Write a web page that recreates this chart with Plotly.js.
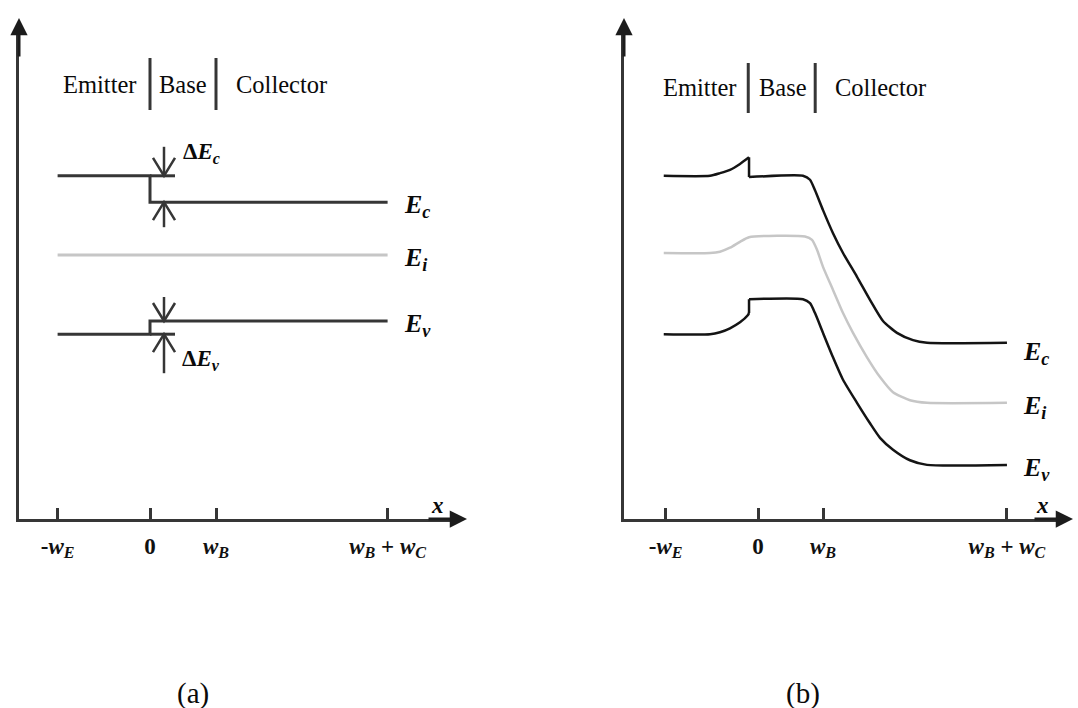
<!DOCTYPE html>
<html><head><meta charset="utf-8">
<script src="https://cdn.plot.ly/plotly-3.0.1.min.js"></script>
<style>html,body{margin:0;padding:0;background:#fff}#chart{width:1078px;height:708px}</style>
</head><body><div id="chart"></div>
<script>
// ---------------- data ----------------
const tickText = ['<b>-<i>w</i><sub><i>E</i></sub></b>', '<b>0</b>', '<b><i>w</i><sub><i>B</i></sub></b>', '<b><i>w</i><sub><i>B</i></sub> + <i>w</i><sub><i>C</i></sub></b>'];
const xTicksA = [-1.4, 0, 1, 3.6];
const xTicksB = [-1.42, 0, 1, 3.83];
const regionNames = ['Emitter', 'Base', 'Collector'];
const bandLabels = ['<b><i>E<sub>c</sub></i></b>', '<b><i>E<sub>i</sub></i></b>', '<b><i>E<sub>v</sub></i></b>'];
const captions = ['(a)', '(b)'];

// panel (a): abrupt heterojunction, flat bands
const xA_Ec = [-1.4, 0, 0, 3.6];
const yA_Ec = [5.2, 5.2, 4.8, 4.8];
const xA_Ei = [-1.4, 3.6];
const yA_Ei = [4.0, 4.0];
const xA_Ev = [-1.4, 0, 0, 3.6];
const yA_Ev = [2.8, 2.8, 3.0, 3.0];
const regionEdgesA = [0, 1];
const labelLevelsA = [4.8, 4.0, 3.0];

// panel (b): biased HBT
const xB_Ec = [-1.45, -0.738, -0.585, -0.431, -0.277, -0.138, -0.138, 0.692, 0.80, 0.877, 1.0, 1.154, 1.308, 1.523, 1.723, 1.923, 2.138, 2.385, 2.6, 3.83];
const yB_Ec = [5.2, 5.2, 5.24, 5.29, 5.38, 5.48, 5.18, 5.2, 5.14, 4.98, 4.68, 4.33, 4.03, 3.67, 3.32, 3.0, 2.82, 2.71, 2.67, 2.67];
const xB_Ei = [-1.45, -0.738, -0.585, -0.431, -0.277, -0.138, 0.723, 0.831, 0.908, 1.0, 1.154, 1.308, 1.462, 1.677, 1.877, 2.077, 2.338, 2.6, 3.83];
const yB_Ei = [4.03, 4.03, 4.05, 4.11, 4.20, 4.27, 4.28, 4.23, 4.08, 3.82, 3.47, 3.12, 2.82, 2.45, 2.15, 1.92, 1.80, 1.76, 1.76];
const xB_Ev = [-1.45, -0.738, -0.585, -0.431, -0.277, -0.154, -0.138, -0.138, 0.692, 0.80, 0.877, 1.0, 1.154, 1.308, 1.523, 1.723, 1.877, 2.077, 2.338, 2.6, 3.83];
const yB_Ev = [2.80, 2.80, 2.83, 2.89, 2.98, 3.09, 3.12, 3.33, 3.33, 3.27, 3.12, 2.82, 2.45, 2.11, 1.76, 1.45, 1.23, 1.05, 0.89, 0.82, 0.82];
const regionEdgesB = [-0.15, 0.88];
const labelLevelsB = [2.67, 1.76, 0.82];

// ---------------- geometry ----------------
const W = 1078, H = 708;
const PA = {ox: 150, kx: 66, axisX: 19, endX: 460, tipX: 467};
const PB = {ox: 758, kx: 65, axisX: 624, endX: 1066, tipX: 1073};
const oy = 519, ky = 66, topY = 30, tipY = 18;
const toX = (P, px) => (px - P.ox) / P.kx;
const toE = py => (oy - py) / ky;

const dark = '#363636', black = '#141414', grey = '#c6c6c6';
const serif = 'Liberation Serif, Times New Roman, serif';

function line(x, y, xa, ya, color, width, shape) {
  return {type: 'scatter', mode: 'lines', x: x, y: y, xaxis: xa, yaxis: ya,
    line: {color: color, width: width, shape: shape || 'linear', smoothing: 0.6},
    hoverinfo: 'skip', showlegend: false, cliponaxis: false};
}
function deltaArrow(P, x, tipE, lenPx) {
  const dir = lenPx > 0 ? 1 : -1; // +1: comes from above, points down
  const ax = 11 / P.kx, ay = 18 / ky;
  const fromE = tipE + lenPx / ky;
  return line([x, x, null, x - ax, x, x + ax], [fromE, tipE, null, tipE + dir * ay, tipE, tipE + dir * ay], 'x', 'y', dark, 2.5);
}

const traces = [];
// panel a bands
traces.push(line(xA_Ec.concat([null, 0, toX(PA, 175)]), yA_Ec.concat([null, yA_Ec[0], yA_Ec[0]]), 'x', 'y', dark, 3));
traces.push(line(xA_Ei, yA_Ei, 'x', 'y', grey, 3));
traces.push(line(xA_Ev.concat([null, 0, toX(PA, 175)]), yA_Ev.concat([null, yA_Ev[0], yA_Ev[0]]), 'x', 'y', dark, 3));
// delta arrows
const arrX = toX(PA, 164);
traces.push(deltaArrow(PA, arrX, yA_Ec[0], 29));
traces.push(deltaArrow(PA, arrX, yA_Ec[2], -25));
traces.push(deltaArrow(PA, arrX, yA_Ev[2], 24));
traces.push(deltaArrow(PA, arrX, yA_Ev[0], -39));
// region separators
traces.push(line([regionEdgesA[0], regionEdgesA[0], null, regionEdgesA[1], regionEdgesA[1]], [toE(110), toE(58), null, toE(110), toE(58)], 'x', 'y', dark, 3));
// panel b (smooth pieces, split at the junction step)
function splitSpline(xs, ys, xa, ya, color, width) {
  const out = [];
  let k = -1;
  for (let i = 1; i < xs.length; i++) if (xs[i] === xs[i - 1]) { k = i; break; }
  out.push(line(xs.slice(0, k), ys.slice(0, k), xa, ya, color, width, 'spline'));
  out.push(line(xs.slice(k - 1, k + 1), ys.slice(k - 1, k + 1), xa, ya, color, width));
  out.push(line(xs.slice(k), ys.slice(k), xa, ya, color, width, 'spline'));
  return out;
}
splitSpline(xB_Ec, yB_Ec, 'x2', 'y2', black, 2.5).forEach(t => traces.push(t));
traces.push(line(xB_Ei, yB_Ei, 'x2', 'y2', grey, 2.5, 'spline'));
splitSpline(xB_Ev, yB_Ev, 'x2', 'y2', black, 2.5).forEach(t => traces.push(t));
traces.push(line([regionEdgesB[0], regionEdgesB[0], null, regionEdgesB[1], regionEdgesB[1]], [toE(113), toE(63), null, toE(113), toE(63)], 'x2', 'y2', dark, 3));

function xaxisFor(P, ticks, anchor) {
  return {domain: [P.axisX / W, P.endX / W], range: [toX(P, P.axisX), toX(P, P.endX)], anchor: anchor,
    showline: true, linecolor: dark, linewidth: 3, showgrid: false, zeroline: false,
    ticks: 'inside', ticklen: 11, tickwidth: 3, tickcolor: dark, ticklabelstandoff: 4,
    tickvals: ticks, ticktext: tickText, tickfont: {family: serif, size: 23, color: '#111'},
    fixedrange: true};
}
function yaxisFor(P, anchor) {
  return {domain: [(H - oy) / H, (H - topY) / H], range: [0, toE(topY)], anchor: anchor,
    showline: true, linecolor: dark, linewidth: 3, showgrid: false, zeroline: false,
    ticks: '', showticklabels: false, fixedrange: true};
}

const ann = [];
// filled arrowheads at the ends of both axes
function axisArrows(P, xr, yr) {
  ann.push({x: toX(P, P.tipX), y: 0, ax: toX(P, P.tipX - 40), ay: 0, xref: xr, yref: yr, axref: xr, ayref: yr,
    showarrow: true, arrowhead: 2, arrowsize: 1.15, arrowwidth: 3, arrowcolor: '#1c1c1c', text: ''});
  ann.push({x: toX(P, P.axisX), y: toE(tipY), ax: toX(P, P.axisX), ay: toE(tipY + 40), xref: xr, yref: yr, axref: xr, ayref: yr,
    showarrow: true, arrowhead: 2, arrowsize: 1.15, arrowwidth: 3, arrowcolor: '#1c1c1c', text: ''});
}
axisArrows(PA, 'x', 'y');
axisArrows(PB, 'x2', 'y2');
function txt(x, y, xr, yr, text, size, opts) {
  ann.push(Object.assign({x: x, y: y, xref: xr, yref: yr, text: text, showarrow: false,
    font: {family: serif, size: size, color: '#0a0a0a'}, xanchor: 'center', yanchor: 'middle'}, opts || {}));
}
// axis titles
txt(toX(PA, 43), toE(17), 'x', 'y', '<b><i>E</i></b>', 22);
txt(toX(PB, 648), toE(17), 'x2', 'y2', '<b><i>E</i></b>', 22);
txt(toX(PA, 437), toE(505), 'x', 'y', '<b><i>x</i></b>', 23);
txt(toX(PB, 1042), toE(505), 'x2', 'y2', '<b><i>x</i></b>', 23);
// region headers
[99.5, 183, 281].forEach((px, i) => txt(toX(PA, px), toE(84), 'x', 'y', regionNames[i], 24.5));
[699, 783, 880].forEach((px, i) => txt(toX(PB, px), toE(87), 'x2', 'y2', regionNames[i], 24.5));
// band labels
labelLevelsA.forEach((e, i) => txt(toX(PA, 402), e, 'x', 'y', bandLabels[i], 26, {xanchor: 'left', yshift: -4}));
labelLevelsB.forEach((e, i) => txt(toX(PB, 1021), e, 'x2', 'y2', bandLabels[i], 26, {xanchor: 'left', yshift: i === 0 ? -10 : -4}));
// delta labels
txt(toX(PA, 201), toE(153), 'x', 'y', '<b>Δ<i>E<sub>c</sub></i></b>', 23);
txt(toX(PA, 201), toE(360), 'x', 'y', '<b>Δ<i>E<sub>v</sub></i></b>', 23);
// captions
txt(193 / W, (H - 693) / H, 'paper', 'paper', captions[0], 29);
txt(803 / W, (H - 693) / H, 'paper', 'paper', captions[1], 29);

const layout = {
  width: W, height: H, margin: {l: 0, r: 0, t: 0, b: 0},
  paper_bgcolor: '#fff', plot_bgcolor: 'rgba(0,0,0,0)', showlegend: false,
  xaxis: xaxisFor(PA, xTicksA, 'y'), yaxis: yaxisFor(PA, 'x'),
  xaxis2: xaxisFor(PB, xTicksB, 'y2'), yaxis2: yaxisFor(PB, 'x2'),
  annotations: ann
};
Plotly.newPlot('chart', traces, layout, {staticPlot: true, displayModeBar: false});
</script></body></html>
